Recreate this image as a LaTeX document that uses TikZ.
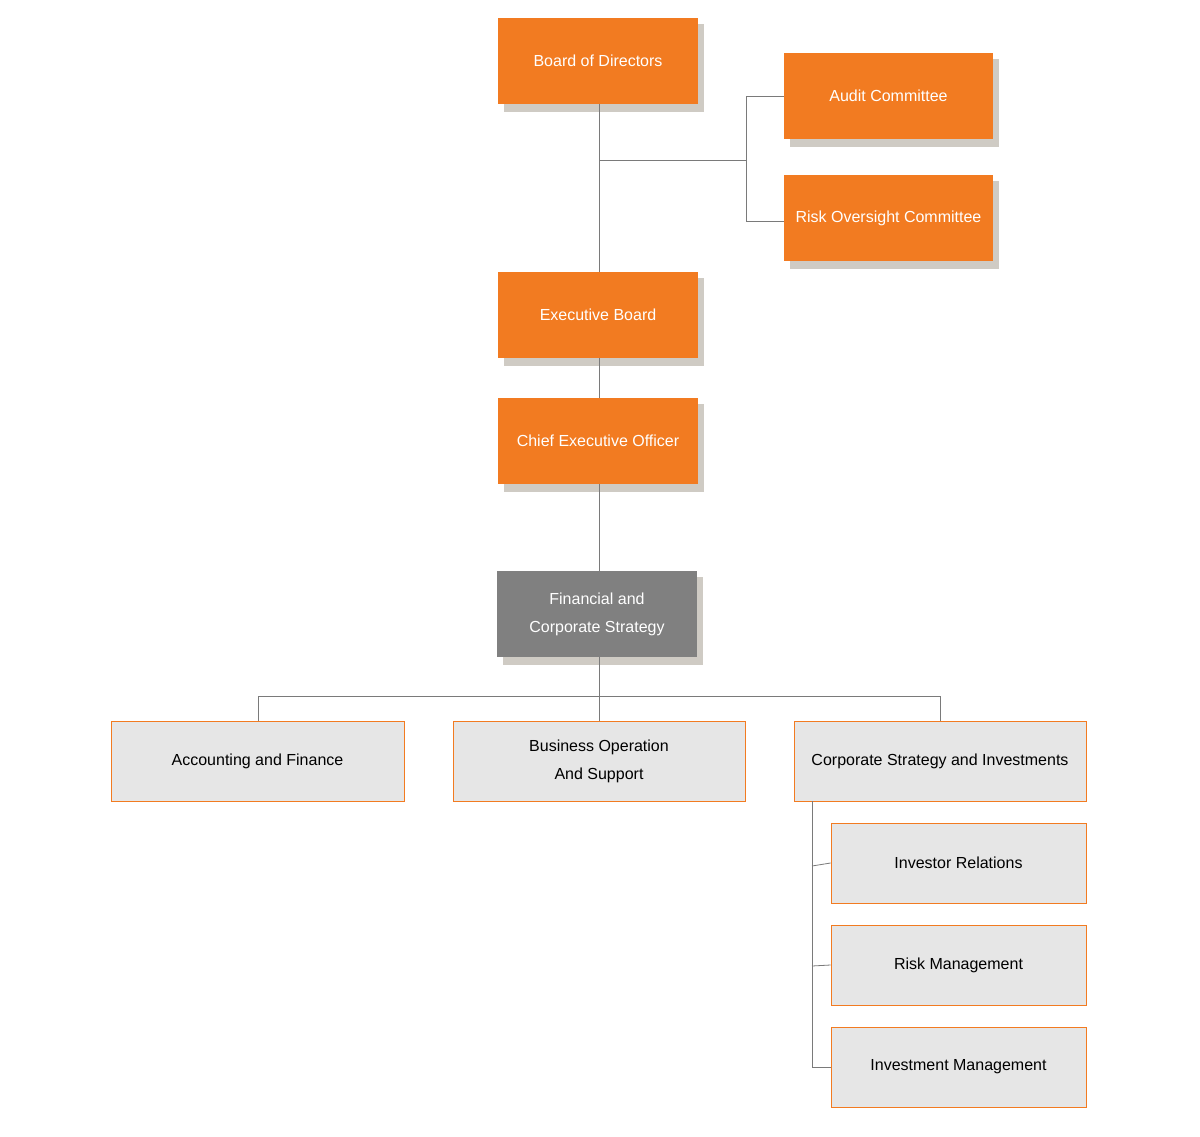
\documentclass[tikz,border=0pt]{standalone}
\usepackage{fontspec}
\setmainfont{Liberation Sans}
\definecolor{org}{HTML}{F27B21}
\definecolor{shd}{HTML}{CFCBC4}
\definecolor{dg}{HTML}{808080}
\definecolor{lg}{HTML}{E6E6E6}
\definecolor{ln}{HTML}{7A7A7A}
\begin{document}
\begin{tikzpicture}[x=1pt,y=-1pt,
  top/.style={draw=none,fill=org,text=white,minimum width=200pt,minimum height=86pt,inner sep=0pt,font=\fontsize{16}{28}\selectfont,align=center},
  shad/.style={fill=shd},
  low/.style={draw=org,fill=lg,text=black,line width=0.8pt,minimum height=80pt,inner sep=0pt,font=\fontsize{16}{28}\selectfont,align=center},
  conn/.style={draw=ln,line width=0.8pt}]
\useasboundingbox (0,0) rectangle (1200,1137);
% shadows
\fill[shad] (504,24) rectangle (704,112);
\fill[shad] (790,59) rectangle (999,147);
\fill[shad] (790,181) rectangle (999,269);
\fill[shad] (504,278) rectangle (704,366);
\fill[shad] (504,404) rectangle (704,492);
\fill[shad] (503,577) rectangle (703,665);
% connectors behind
\coordinate (j1) at (599,160);
\coordinate (j2) at (746,160);
\coordinate (j3) at (599,696);
\node[top] (bod) at (598,61) {Board of Directors};
\node[top,minimum width=209pt] (aud) at (888.5,96) {Audit Committee};
\node[top,minimum width=209pt] (roc) at (888.5,218) {Risk Oversight Committee};
\node[top] (eb) at (598,315) {Executive Board};
\node[top] (ceo) at (598,441) {Chief Executive Officer};
\node[top,fill=dg] (fcs) at (597,614) {Financial and\\Corporate Strategy};
\node[low,minimum width=293pt] (acc) at (257.5,761) {Accounting and Finance};
\node[low,minimum width=292pt] (bos) at (599,761) {Business Operation\\And Support};
\node[low,minimum width=292pt] (csi) at (940,761) {Corporate Strategy and Investments};
\node[low,minimum width=255pt] (ir) at (958.5,863) {Investor Relations};
\node[low,minimum width=255pt] (rm) at (958.5,965) {Risk Management};
\node[low,minimum width=255pt] (im) at (958.5,1067) {Investment Management};
\draw[conn] (599,104) -- (599,272);
\draw[conn] (j1) -- (j2);
\draw[conn] (aud.west) -- (746,96) -- (746,221) -- (784,221);
\draw[conn] (599,358) -- (599,398);
\draw[conn] (599,484) -- (599,571);
\draw[conn] (599,657) -- (599,721);
\draw[conn] (258,721) -- (258,696) -- (940,696) -- (940,721);
\draw[conn] (812,801) -- (812,1067) -- (im.west);
\draw[conn] (812,866) -- (ir.west);
\draw[conn] (812,966) -- (rm.west);
\end{tikzpicture}
\end{document}
